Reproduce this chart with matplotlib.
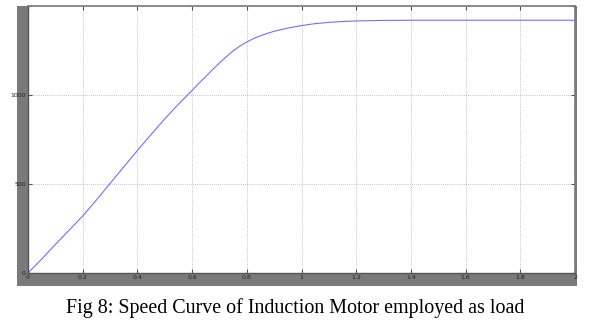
import matplotlib.pyplot as plt
from matplotlib.patches import Rectangle

# speed curve
time_s = [0, 0.05, 0.1, 0.15, 0.2, 0.25, 0.3, 0.35, 0.4, 0.45, 0.5, 0.55,
          0.6, 0.625, 0.65, 0.675, 0.7, 0.725, 0.75, 0.775, 0.8, 0.825, 0.85,
          0.875, 0.9, 0.95, 1.0, 1.05, 1.1, 1.15, 1.2, 1.3, 1.4, 1.5, 1.6,
          1.7, 1.8, 1.9, 2.0]
speed = [0, 78, 160, 240, 320, 410, 503, 596, 688, 778, 866, 948,
         1026, 1066, 1104, 1143, 1180, 1215, 1248, 1275, 1298, 1317, 1333,
         1346, 1358, 1376, 1390, 1401, 1408, 1413, 1416, 1419, 1420, 1420, 1420,
         1420, 1420, 1420, 1420]

xticks = [0, 0.2, 0.4, 0.6, 0.8, 1, 1.2, 1.4, 1.6, 1.8, 2]
xlabels = ['0', '0.2', '0.4', '0.6', '0.8', '1', '1.2', '1.4', '1.6', '1.8', '2']
yticks = [0, 500, 1000, 1500]
ylabels = ['0', '500', '1000', '']
caption = "Fig 8: Speed Curve of Induction Motor employed as load"

W, H = 614, 328
fig = plt.figure(figsize=(W / 100, H / 100), dpi=100)
fig.patch.set_facecolor('white')

# grey scope frame behind the axes
fig.patches.append(Rectangle((17 / W, 1 - 286 / H), (577 - 17) / W, (286 - 6) / H,
                             transform=fig.transFigure, facecolor='#7a7a7a',
                             edgecolor='none', zorder=-5))

ax = fig.add_axes([28 / W, 1 - 273 / H, (575 - 28) / W, (273 - 6) / H])
ax.set_zorder(2)
ax.set_facecolor('white')
ax.plot(time_s, speed, color='#6f6fff', linewidth=0.8)

ax.set_xlim(0, 2)
ax.set_ylim(0, 1500)
ax.set_xticks(xticks)
ax.set_xticklabels(xlabels)
ax.set_yticks(yticks)
ax.set_yticklabels(ylabels)
ax.grid(True, color='#b0b0b0', linestyle=(0, (1, 1.5)), linewidth=0.6)
ax.tick_params(direction='in', length=3, width=0.8, color='#555555',
               labelsize=4.5, labelcolor='#222222', pad=1.5,
               top=True, right=True)
for side in ['left', 'bottom']:
    ax.spines[side].set_color('#555555')
    ax.spines[side].set_linewidth(1)
for side in ['top', 'right']:
    ax.spines[side].set_color('#7a7a7a')
    ax.spines[side].set_linewidth(1.2)

fig.text(295 / W, 1 - 308 / H, caption, ha='center', va='center',
         fontsize=14.4, family='Liberation Serif', color='black')

fig.savefig('out.png', dpi=100, facecolor='white')
